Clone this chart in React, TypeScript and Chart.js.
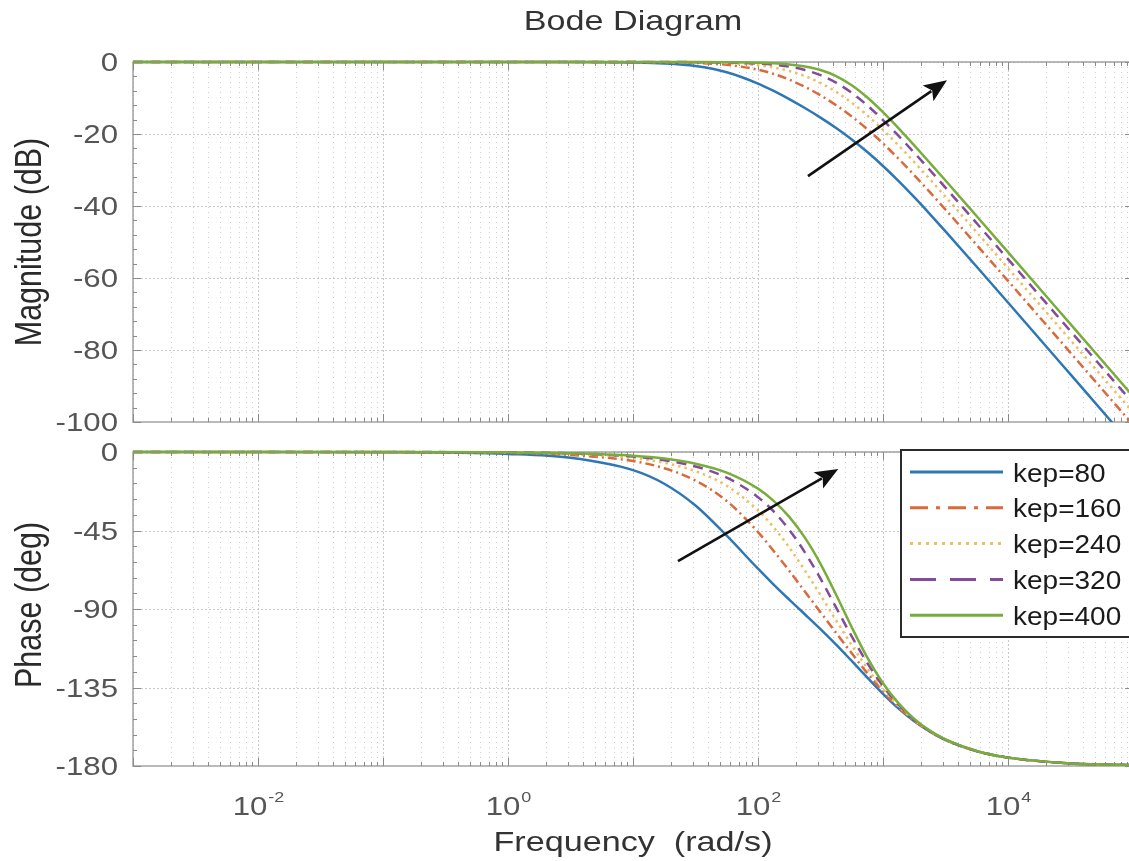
import React, { useEffect, useRef } from "react";
import { Chart, registerables } from "chart.js";

Chart.register(...registerables);

// ---------------- data ----------------
const FREQ = [0.001, 0.01, 0.1, 1, 3.162, 10, 17.78, 31.62, 56.23, 100, 133.4, 177.8, 237.1, 316.2, 421.7, 562.3, 749.9, 1000, 1334, 1778, 2371, 3162, 5623, 10000, 31623, 100000];

const SERIES_LABELS = ["kep=80", "kep=160", "kep=240", "kep=320", "kep=400"];

const MAG_KEP80 = [0, 0, 0, 0, -0.01, -0.13, -0.39, -1.12, -2.86, -6.0, -8.04, -10.31, -12.79, -15.45, -18.34, -21.51, -25.01, -28.88, -33.08, -37.56, -42.24, -47.05, -56.87, -66.82, -86.79, -106.79];
const MAG_KEP160 = [0, 0, 0, 0, 0, -0.03, -0.09, -0.26, -0.79, -2.14, -3.32, -4.9, -6.89, -9.26, -12.01, -15.14, -18.68, -22.62, -26.9, -31.44, -36.16, -40.99, -50.84, -60.79, -80.77, -100.77];
const MAG_KEP240 = [0, 0, 0, 0, 0, -0.01, -0.03, -0.1, -0.31, -0.91, -1.53, -2.5, -3.9, -5.82, -8.29, -11.32, -14.86, -18.86, -23.21, -27.81, -32.57, -37.43, -47.31, -57.27, -77.25, -97.25];
const MAG_KEP320 = [0, 0, 0, 0, 0, 0, -0.01, -0.04, -0.14, -0.43, -0.75, -1.3, -2.21, -3.64, -5.74, -8.57, -12.08, -16.13, -20.55, -25.21, -30.01, -34.9, -44.8, -54.76, -74.75, -94.75];
const MAG_KEP400 = [0, 0, 0, 0, 0, 0, -0.01, -0.02, -0.07, -0.21, -0.38, -0.68, -1.23, -2.21, -3.89, -6.44, -9.87, -13.95, -18.44, -23.16, -28.01, -32.92, -42.85, -52.82, -72.81, -92.81];

const PHASE_KEP80 = [0, -0.01, -0.1, -1.1, -3.3, -10.4, -18.2, -30.7, -48.0, -66.9, -76.0, -84.6, -93.0, -101.5, -110.4, -119.8, -129.3, -138.6, -147.1, -154.4, -160.3, -165.1, -171.5, -175.2, -178.5, -179.5];
const PHASE_KEP160 = [0, 0, -0.05, -0.5, -1.7, -5.2, -9.3, -16.4, -28.1, -45.9, -56.7, -68.1, -80.0, -91.8, -103.7, -115.4, -126.8, -137.2, -146.4, -154.1, -160.2, -165.0, -171.5, -175.2, -178.5, -179.5];
const PHASE_KEP240 = [0, 0, -0.04, -0.35, -1.1, -3.5, -6.2, -11.0, -19.4, -33.4, -43.2, -54.7, -67.9, -82.0, -96.5, -110.7, -124.0, -135.8, -145.7, -153.7, -160.0, -164.9, -171.5, -175.2, -178.5, -179.5];
const PHASE_KEP320 = [0, 0, -0.03, -0.26, -0.8, -2.6, -4.7, -8.3, -14.7, -25.9, -34.1, -44.6, -57.5, -72.6, -89.2, -105.7, -121.0, -134.2, -144.9, -153.4, -159.9, -164.9, -171.5, -175.2, -178.5, -179.5];
const PHASE_KEP400 = [0, 0, -0.02, -0.21, -0.7, -2.1, -3.7, -6.7, -11.8, -21.0, -28.0, -37.2, -49.1, -64.1, -81.8, -100.5, -117.9, -132.6, -144.1, -153.0, -159.7, -164.8, -171.4, -175.2, -178.5, -179.5];

const MAG_TICKS = [0, -20, -40, -60, -80, -100];
const PHASE_TICKS = [0, -45, -90, -135, -180];
const FREQ_TICK_EXPONENTS = [-2, 0, 2, 4];

const TITLE = "Bode Diagram";
const MAG_LABEL = "Magnitude (dB)";
const PHASE_LABEL = "Phase (deg)";
const FREQ_LABEL = "Frequency  (rad/s)";

// annotation arrows, in data coordinates [frequency, value]
const MAG_ARROW = [[251, -31.7], [3250, -5.1]];
const PHASE_ARROW = [[22.9, -62.5], [439, -9.7]];

// ---------------- styles ----------------
const COLORS = ["#2f77b4", "#d96a3b", "#ecbf62", "#844b9b", "#79ad3b"];
const DASHES = [[], [9, 4, 2, 4], [2.5, 4], [10, 7], []];
const LEGEND_DASHES = [[], [18, 8, 4, 8], [3, 5], [26, 14], []];
const FONT = '"Liberation Sans", Arial, Helvetica, sans-serif';
const SX = 1.2;

function txt(ctx: any, s: string, x: number, y: number, size: number, color: string, align: string, sx = SX, rotate = false) {
  ctx.save();
  ctx.font = `${size}px ${FONT}`;
  ctx.fillStyle = color;
  ctx.textAlign = align;
  ctx.textBaseline = "alphabetic";
  ctx.translate(x, y);
  ctx.scale(sx, 1);
  if (rotate) ctx.rotate(-Math.PI / 2);
  ctx.fillText(s, 0, 0);
  ctx.restore();
}

function drawArrow(chart: any, arrow: number[][]) {
  const { ctx, scales } = chart;
  const x0 = scales.x.getPixelForValue(arrow[0][0]);
  const y0 = scales.y.getPixelForValue(arrow[0][1]);
  const x1 = scales.x.getPixelForValue(arrow[1][0]);
  const y1 = scales.y.getPixelForValue(arrow[1][1]);
  const ang = Math.atan2(y1 - y0, x1 - x0);
  const headLen = 23;
  const headW = 9.5;
  const c = Math.cos(ang);
  const s = Math.sin(ang);
  const bx = x1 - headLen * c;
  const by = y1 - headLen * s;
  ctx.save();
  ctx.setLineDash([]);
  ctx.strokeStyle = "#111";
  ctx.fillStyle = "#111";
  ctx.lineWidth = 2.6;
  ctx.beginPath();
  ctx.moveTo(x0, y0);
  ctx.lineTo(bx + 4 * c, by + 4 * s);
  ctx.stroke();
  ctx.beginPath();
  ctx.moveTo(x1, y1);
  ctx.lineTo(bx + headW * s, by - headW * c);
  ctx.lineTo(bx + 5 * c, by + 5 * s);
  ctx.lineTo(bx - headW * s, by + headW * c);
  ctx.closePath();
  ctx.fill();
  ctx.restore();
}

function panelPlugin(cfg: any) {
  return {
    id: "panel",
    beforeDatasetsDraw(chart: any) {
      const { ctx, chartArea: a, scales } = chart;
      const xs = scales.x;
      const ys = scales.y;
      ctx.save();
      // grid
      ctx.save();
      ctx.beginPath();
      ctx.rect(a.left, a.top, a.right - a.left, a.bottom - a.top);
      ctx.clip();
      ctx.lineWidth = 1;
      for (let n = -3; n < 5; n++) {
        for (let k = 1; k < 10; k++) {
          const px = Math.round(xs.getPixelForValue(k * Math.pow(10, n))) + 0.5;
          ctx.strokeStyle = k === 1 ? "#c9c9c9" : "#cdcdcd";
          ctx.setLineDash(k === 1 ? [2, 2] : [1, 4]);
          ctx.beginPath();
          ctx.moveTo(px, a.top);
          ctx.lineTo(px, a.bottom);
          ctx.stroke();
        }
      }
      ctx.strokeStyle = "#c9c9c9";
      ctx.setLineDash([2, 2]);
      for (const t of cfg.yTicks) {
        const py = Math.round(ys.getPixelForValue(t)) + 0.5;
        ctx.beginPath();
        ctx.moveTo(a.left, py);
        ctx.lineTo(a.right, py);
        ctx.stroke();
      }
      ctx.restore();

      // frame
      ctx.setLineDash([]);
      ctx.strokeStyle = "#a3a3a3";
      ctx.lineWidth = 1.5;
      ctx.strokeRect(a.left, a.top, a.right - a.left, a.bottom - a.top);

      // tick marks
      ctx.strokeStyle = "#8a8a8a";
      ctx.lineWidth = 1;
      for (let n = -3; n < 5; n++) {
        for (let k = 1; k < 10; k++) {
          const px = Math.round(xs.getPixelForValue(k * Math.pow(10, n))) + 0.5;
          const len = k === 1 ? 8 : 4;
          ctx.beginPath();
          ctx.moveTo(px, a.bottom);
          ctx.lineTo(px, a.bottom - len);
          ctx.moveTo(px, a.top);
          ctx.lineTo(px, a.top + len);
          ctx.stroke();
        }
      }
      const step = (cfg.yTicks[0] - cfg.yTicks[1]) / 5;
      for (let v = ys.min; v <= ys.max + 1e-9; v += step) {
        const py = Math.round(ys.getPixelForValue(v)) + 0.5;
        const major = cfg.yTicks.some((t: number) => Math.abs(t - v) < 1e-6);
        const len = major ? 8 : 4;
        ctx.beginPath();
        ctx.moveTo(a.left, py);
        ctx.lineTo(a.left + len, py);
        ctx.moveTo(a.right, py);
        ctx.lineTo(a.right - len, py);
        ctx.stroke();
      }

      // y tick labels
      for (const t of cfg.yTicks) {
        txt(ctx, String(t), a.left - 15, ys.getPixelForValue(t) + 9.3, 26, "#555555", "right");
      }
      // y label
      txt(ctx, cfg.yLabel, 41, (a.top + a.bottom) / 2 + cfg.yLabelShift, 30.5, "#2a2a2a", "center", SX, true);
      // title
      if (cfg.title) {
        txt(ctx, cfg.title, (a.left + a.right) / 2, a.top - 32, 28, "#333333", "center", 1.22);
      }
      // x tick labels and x label
      if (cfg.showX) {
        for (const e of FREQ_TICK_EXPONENTS) {
          const px = xs.getPixelForValue(Math.pow(10, e));
          ctx.font = `26px ${FONT}`;
          const wBase = ctx.measureText("10").width * SX;
          ctx.font = `15px ${FONT}`;
          const expStr = String(e);
          const wExp = ctx.measureText(expStr).width * SX;
          const start = px - (wBase + wExp) / 2;
          txt(ctx, "10", start, a.bottom + 49, 26, "#555555", "left");
          txt(ctx, expStr, start + wBase + 1, a.bottom + 36, 15, "#555555", "left");
        }
        txt(ctx, FREQ_LABEL, (a.left + a.right) / 2, a.bottom + 85, 28, "#333333", "center", 1.22);
      }
      ctx.restore();
    },
    afterDatasetsDraw(chart: any) {
      const { ctx, chartArea: a } = chart;
      drawArrow(chart, cfg.arrow);
      if (cfg.legend) {
        ctx.save();
        const left = 901;
        const top = a.top - 2;
        ctx.fillStyle = "#ffffff";
        ctx.fillRect(left, top, 240, 187);
        ctx.setLineDash([]);
        ctx.strokeStyle = "#2b2b2b";
        ctx.lineWidth = 2;
        ctx.strokeRect(left, top, 240, 187);
        chart.data.datasets.forEach((ds: any, i: number) => {
          const y = a.top + 20 + 35.8 * i;
          ctx.save();
          ctx.strokeStyle = ds.borderColor;
          ctx.lineWidth = 3;
          ctx.setLineDash(LEGEND_DASHES[i]);
          ctx.beginPath();
          ctx.moveTo(910, y);
          ctx.lineTo(1003, y);
          ctx.stroke();
          ctx.restore();
          txt(ctx, ds.label, 1013, y + 9.5, 25, "#1a1a1a", "left", 1.12);
        });
        ctx.restore();
      }
    },
  };
}

function buildDatasets(series: number[][]) {
  return series.map((vals, i) => ({
    label: SERIES_LABELS[i],
    data: FREQ.map((f, j) => ({ x: f, y: vals[j] })),
    borderColor: COLORS[i],
    borderDash: DASHES[i],
    borderWidth: 2.5,
    pointRadius: 0,
    fill: false,
    cubicInterpolationMode: "monotone",
    order: 5 - i,
    clip: { left: 0, top: 2, right: 0, bottom: 0 },
  }));
}

function makeConfig(series: number[][], yMin: number, padding: any, plugin: any) {
  return {
    type: "line",
    data: { datasets: buildDatasets(series) },
    options: {
      animation: false,
      responsive: false,
      devicePixelRatio: 1,
      events: [],
      layout: { padding },
      plugins: { legend: { display: false }, tooltip: { enabled: false }, title: { display: false } },
      scales: {
        x: {
          type: "logarithmic",
          min: 0.001,
          max: 100000,
          ticks: { display: false },
          grid: { display: false },
          border: { display: false },
          afterFit: (s: any) => {
            s.height = 0;
          },
        },
        y: {
          type: "linear",
          min: yMin,
          max: 0,
          ticks: { display: false },
          grid: { display: false },
          border: { display: false },
          afterFit: (s: any) => {
            s.width = 133;
          },
        },
      },
    },
    plugins: [plugin],
  } as any;
}

export default function App() {
  const magRef = useRef<HTMLCanvasElement>(null);
  const phRef = useRef<HTMLCanvasElement>(null);

  useEffect(() => {
    const magChart = new Chart(
      magRef.current as HTMLCanvasElement,
      makeConfig(
        [MAG_KEP80, MAG_KEP160, MAG_KEP240, MAG_KEP320, MAG_KEP400],
        -100,
        { left: 0, right: 7, top: 62, bottom: 18 },
        panelPlugin({ yTicks: MAG_TICKS, yLabel: MAG_LABEL, yLabelShift: 0, title: TITLE, showX: false, arrow: MAG_ARROW, legend: false })
      )
    );
    const phChart = new Chart(
      phRef.current as HTMLCanvasElement,
      makeConfig(
        [PHASE_KEP80, PHASE_KEP160, PHASE_KEP240, PHASE_KEP320, PHASE_KEP400],
        -180,
        { left: 0, right: 7, top: 22, bottom: 95 },
        panelPlugin({ yTicks: PHASE_TICKS, yLabel: PHASE_LABEL, yLabelShift: -4, showX: true, arrow: PHASE_ARROW, legend: true })
      )
    );
    return () => {
      magChart.destroy();
      phChart.destroy();
    };
  }, []);

  return (
    <div style={{ position: "fixed", left: 0, top: 0, width: 1129, height: 861, overflow: "hidden", background: "#ffffff" }}>
      <canvas ref={magRef} width={1140} height={440} style={{ position: "absolute", left: 0, top: 0, width: 1140, height: 440 }} />
      <canvas ref={phRef} width={1140} height={431} style={{ position: "absolute", left: 0, top: 430, width: 1140, height: 431 }} />
    </div>
  );
}
